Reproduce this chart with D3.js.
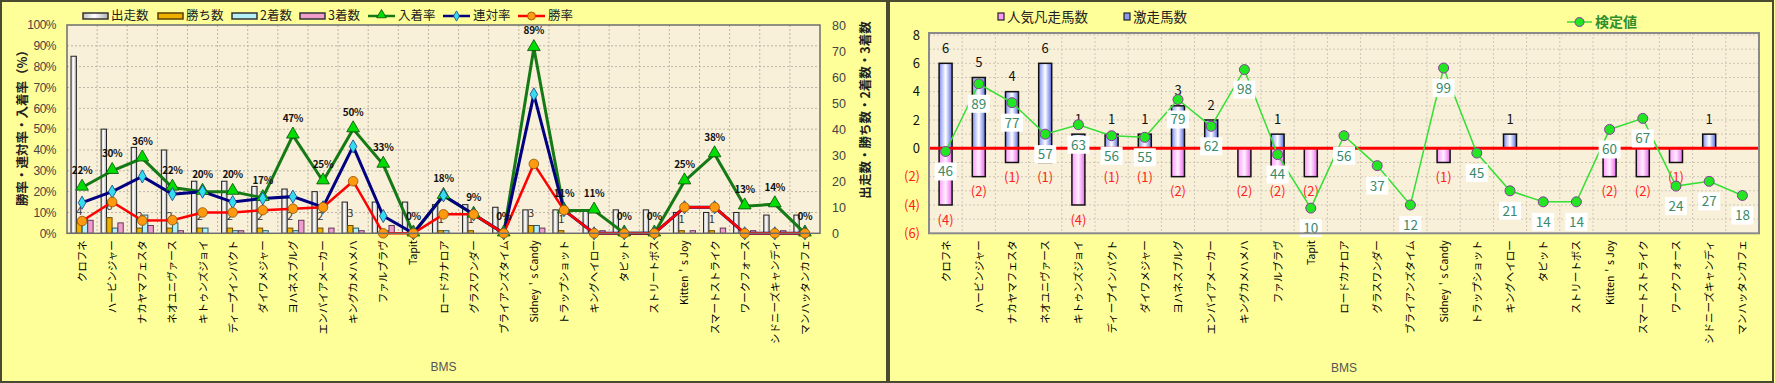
<!DOCTYPE html>
<html>
<head>
<meta charset="utf-8">
<script src="https://cdn.jsdelivr.net/npm/d3@7"></script>
<style>
body { margin: 0; background: #ffff99; }
svg { display: block; }
text { font-family: "Noto Sans CJK JP", "Noto Sans", sans-serif; }
</style>
</head>
<body>
<div id="chart"></div>
<script>
// BMS (broodmare sire) names
const sires = ["クロフネ", "ハービンジャー", "ナカヤマフェスタ", "ネオユニヴァース", "キトゥンズジョイ",
  "ディープインパクト", "ダイワメジャー", "ヨハネスブルグ", "エンパイアメーカー", "キングカメハメハ",
  "ファルブラヴ", "Tapit", "ロードカナロア", "グラスワンダー", "ブライアンズタイム",
  "Sidney＇s Candy", "トラップショット", "キングヘイロー", "タピット", "ストリートボス",
  "Kitten＇s Joy", "スマートストライク", "ワークフォース", "シドニーズキャンディ", "マンハッタンカフェ"]

// left chart: counts
const starts  = [68, 40, 33, 32, 20, 20, 18, 17, 16, 12, 12, 12, 11, 11, 10, 9, 9, 9, 9, 9, 8, 8, 8, 7, 7]
const wins    = [4, 6, 2, 2, 2, 2, 2, 2, 2, 3, 0, 0, 1, 1, 0, 3, 1, 0, 0, 0, 1, 1, 0, 0, 0]
const seconds = [6, 2, 7, 4, 2, 1, 1, 1, 0, 2, 1, 0, 1, 0, 0, 3, 0, 0, 0, 0, 0, 0, 0, 0, 0]
const thirds  = [5, 4, 3, 1, 0, 1, 0, 5, 2, 1, 3, 0, 0, 0, 0, 2, 0, 1, 0, 0, 1, 2, 1, 1, 0]

// left chart: rates (%)
const placeRate = [22, 30, 36, 22, 20, 20, 17, 47, 25, 50, 33, 0, 18, 9, 0, 89, 11, 11, 0, 0, 25, 38, 13, 14, 0]
const top2Rate  = [14.7, 20, 27.3, 18.8, 20, 15, 16.7, 17.6, 12.5, 41.7, 8.3, 0, 18.2, 9.1, 0, 66.7, 11.1, 0, 0, 0, 12.5, 12.5, 0, 0, 0]
const winRate   = [5.9, 15, 6.1, 6.3, 10, 10, 11.1, 11.8, 12.5, 25, 0, 0, 9.1, 9.1, 0, 33.3, 11.1, 0, 0, 0, 12.5, 12.5, 0, 0, 0]

// right chart
const gekisou = [6, 5, 4, 6, 1, 1, 1, 3, 2, 0, 1, 0, 0, 0, 0, 0, 0, 1, 0, 0, 0, 0, 0, 1, 0]
const bonsou  = [4, 2, 1, 1, 4, 1, 1, 2, 0, 2, 2, 2, 0, 0, 0, 1, 0, 0, 0, 0, 2, 2, 1, 0, 0]
const kentei  = [46, 89, 77, 57, 63, 56, 55, 79, 62, 98, 44, 10, 56, 37, 12, 99, 45, 21, 14, 14, 60, 67, 24, 27, 18]

const pctTicks = d3.range(0, 101, 10)
const cntTicks = d3.range(0, 81, 10)
const diffTicks = d3.range(-6, 9, 2)

const width = 1775, height = 383

const svg = d3.select("#chart").append("svg")
  .attr("width", width)
  .attr("height", height)

const defs = svg.append("defs")
const grad = (id, stops) => {
  const lg = defs.append("linearGradient").attr("id", id)
    .attr("x1", "0%").attr("x2", "100%").attr("y1", "0%").attr("y2", "0%")
  stops.forEach(s => lg.append("stop").attr("offset", s[0]).attr("stop-color", s[1]))
}
grad("gStart", [["0%", "#c0c0c0"], ["45%", "#ffffff"], ["100%", "#b0b0b0"]])
grad("gBlue", [["0%", "#7f8ff0"], ["50%", "#ffffff"], ["100%", "#5a6ce0"]])
grad("gPink", [["0%", "#ff99ff"], ["50%", "#fff0ff"], ["100%", "#ee66ee"]])

// panels
svg.append("rect").attr("x", 1).attr("y", 1).attr("width", 886).attr("height", 381)
  .attr("fill", "#ffff99").attr("stroke", "#4a4a30").attr("stroke-width", 2)
svg.append("rect").attr("x", 889).attr("y", 1).attr("width", 884).attr("height", 381)
  .attr("fill", "#ffff99").attr("stroke", "#4a4a30").attr("stroke-width", 2)

/* ---------------- left chart ---------------- */
const L = {left: 67, right: 820, top: 25, bottom: 233.3}

const xL = d3.scaleBand().domain(sires).range([L.left, L.right])
const sub = d3.scaleBand().domain([0, 1, 2, 3]).range([4, xL.bandwidth() - 4]).paddingInner(0.04)
const yPct = d3.scaleLinear().domain([0, 100]).range([L.bottom, L.top])
const yCnt = d3.scaleLinear().domain([0, 80]).range([L.bottom, L.top])

const gl = svg.append("g")

gl.append("rect").attr("x", L.left).attr("y", L.top)
  .attr("width", L.right - L.left).attr("height", L.bottom - L.top)
  .attr("fill", "#f9f0d9")

gl.append("g").selectAll("line").data(pctTicks.slice(1, -1)).enter().append("line")
  .attr("x1", L.left).attr("x2", L.right)
  .attr("y1", d => yPct(d)).attr("y2", d => yPct(d))
  .attr("stroke", "#bdb4a6").attr("stroke-dasharray", "2,2")
gl.append("g").selectAll("line").data(sires.slice(1)).enter().append("line")
  .attr("x1", d => xL(d)).attr("x2", d => xL(d))
  .attr("y1", L.top).attr("y2", L.bottom)
  .attr("stroke", "#bdb4a6").attr("stroke-dasharray", "2,2")

// bars
const barSeries = [
  {vals: starts, fill: "url(#gStart)", stroke: "#222"},
  {vals: wins, fill: "#f0b000", stroke: "#6a4a00"},
  {vals: seconds, fill: "#b4f0f8", stroke: "#2a5a68"},
  {vals: thirds, fill: "#f09ccc", stroke: "#603a56"}
]
barSeries.forEach((s, k) => {
  gl.append("g").selectAll("rect").data(sires).enter().append("rect")
    .attr("x", d => xL(d) + sub(k))
    .attr("y", (d, i) => yCnt(s.vals[i]))
    .attr("width", sub.bandwidth())
    .attr("height", (d, i) => L.bottom - yCnt(s.vals[i]))
    .attr("fill", s.fill)
    .attr("stroke", s.stroke)
    .attr("stroke-width", 1)
})

// win count labels
gl.append("g").selectAll("text").data(sires.filter((d, i) => wins[i] > 0)).enter().append("text")
  .attr("x", d => xL(d) + sub(1) + sub.bandwidth() / 2)
  .attr("y", d => yCnt(wins[sires.indexOf(d)]) - 12)
  .attr("dy", "0.35em")
  .attr("text-anchor", "middle")
  .attr("font-size", 11)
  .attr("fill", "#333")
  .text(d => wins[sires.indexOf(d)])

const cx = d => xL(d) + xL.bandwidth() / 2

// lines
const lineOf = vals => d3.line().x(d => cx(d)).y((d, i) => yPct(vals[i]))
gl.append("path").datum(sires).attr("d", lineOf(placeRate))
  .attr("fill", "none").attr("stroke", "#157a15").attr("stroke-width", 3)
gl.append("path").datum(sires).attr("d", lineOf(top2Rate))
  .attr("fill", "none").attr("stroke", "#000080").attr("stroke-width", 3)
gl.append("path").datum(sires).attr("d", lineOf(winRate))
  .attr("fill", "none").attr("stroke", "#ff0000").attr("stroke-width", 2.5)

// markers
gl.append("g").selectAll("path").data(sires).enter().append("path")
  .attr("d", d3.symbol().type(d3.symbolTriangle).size(70))
  .attr("transform", (d, i) => `translate(${cx(d)}, ${yPct(placeRate[i]) - 1})`)
  .attr("fill", "#00dd00").attr("stroke", "#0a4a0a").attr("stroke-width", 0.8)
gl.append("g").selectAll("path").data(sires).enter().append("path")
  .attr("d", d3.symbol().type(d3.symbolDiamond).size(50))
  .attr("transform", (d, i) => `translate(${cx(d)}, ${yPct(top2Rate[i])})`)
  .attr("fill", "#33ddee").attr("stroke", "#1a3a8a").attr("stroke-width", 0.8)
gl.append("g").selectAll("circle").data(sires).enter().append("circle")
  .attr("cx", d => cx(d))
  .attr("cy", (d, i) => yPct(winRate[i]))
  .attr("r", 4.8)
  .attr("fill", "#ff9a10").attr("stroke", "#8a5200").attr("stroke-width", 0.8)

// place rate labels
gl.append("g").selectAll("text").data(sires).enter().append("text")
  .attr("x", d => cx(d))
  .attr("y", (d, i) => yPct(placeRate[i]) - 17)
  .attr("dy", "0.35em")
  .attr("text-anchor", "middle")
  .attr("font-size", 10)
  .attr("font-weight", "bold")
  .attr("letter-spacing", "-0.3")
  .attr("fill", "#111")
  .text((d, i) => placeRate[i] + "%")

// frame
gl.append("rect").attr("x", L.left).attr("y", L.top)
  .attr("width", L.right - L.left).attr("height", L.bottom - L.top)
  .attr("fill", "none").attr("stroke", "#6e6e6e").attr("stroke-width", 1.5)

// axes
const yAxisL = gl.append("g").attr("transform", `translate(${L.left}, 0)`)
  .call(d3.axisLeft(yPct).tickValues(pctTicks).tickFormat(d => d + "%").tickSize(0).tickPadding(11))
yAxisL.select(".domain").remove()
yAxisL.selectAll("text").attr("font-size", 12).attr("fill", "#444")
  .style("font-family", "'Liberation Sans', sans-serif").attr("letter-spacing", "-0.5")

const yAxisR = gl.append("g").attr("transform", `translate(${L.right}, 0)`)
  .call(d3.axisRight(yCnt).tickValues(cntTicks).tickSize(0).tickPadding(12))
yAxisR.select(".domain").remove()
yAxisR.selectAll("text").attr("font-size", 12.5).attr("fill", "#444")
  .style("font-family", "'Liberation Sans', sans-serif")

const xAxisL = gl.append("g").attr("transform", `translate(0, ${L.bottom})`)
  .call(d3.axisBottom(xL).tickSize(0))
xAxisL.select(".domain").remove()
xAxisL.selectAll("text")
  .attr("transform", "rotate(-90)")
  .attr("x", -7).attr("y", 0).attr("dy", "0.38em")
  .style("text-anchor", "end")
  .attr("font-size", 10.5)
  .attr("fill", "#000")

gl.append("text")
  .attr("transform", `translate(23, 125) rotate(-90)`)
  .attr("text-anchor", "middle").attr("dy", "0.35em")
  .attr("font-size", 12.5).attr("font-weight", "bold").attr("fill", "#222")
  .text("勝率・連対率・入着率（%）")
gl.append("text")
  .attr("transform", `translate(866, 110) rotate(-90)`)
  .attr("text-anchor", "middle").attr("dy", "0.35em")
  .attr("font-size", 12.5).attr("font-weight", "bold").attr("fill", "#222")
  .text("出走数・勝ち数・2着数・3着数")
gl.append("text")
  .attr("x", (L.left + L.right) / 2).attr("y", 367)
  .attr("text-anchor", "middle").attr("dy", "0.35em")
  .attr("font-size", 12).attr("fill", "#555")
  .style("font-family", "'Liberation Sans', sans-serif")
  .text("BMS")

// legend (left)
const legL = gl.append("g")
const barLegend = [
  {x: 83, label: "出走数", fill: "url(#gStart)", stroke: "#333"},
  {x: 158, label: "勝ち数", fill: "#f0b000", stroke: "#5a4000"},
  {x: 232, label: "2着数", fill: "#b4f0f8", stroke: "#333"},
  {x: 300, label: "3着数", fill: "#f09ccc", stroke: "#333"}
]
barLegend.forEach(b => {
  legL.append("rect").attr("x", b.x).attr("y", 13).attr("width", 25).attr("height", 6)
    .attr("fill", b.fill).attr("stroke", b.stroke).attr("stroke-width", 1.5)
  legL.append("text").attr("x", b.x + 28).attr("y", 16).attr("dy", "0.35em")
    .attr("font-size", 12.5).attr("fill", "#222").text(b.label)
})
const lineLegend = [
  {x: 368, label: "入着率", color: "#157a15", type: "tri"},
  {x: 443, label: "連対率", color: "#000080", type: "dia"},
  {x: 518, label: "勝率", color: "#ff0000", type: "cir"}
]
lineLegend.forEach(b => {
  legL.append("line").attr("x1", b.x).attr("x2", b.x + 27).attr("y1", 16).attr("y2", 16)
    .attr("stroke", b.color).attr("stroke-width", 2.5)
  const m = b.x + 13.5
  if (b.type === "tri") {
    legL.append("path").attr("d", d3.symbol().type(d3.symbolTriangle).size(40))
      .attr("transform", `translate(${m}, 15)`).attr("fill", "#00dd00").attr("stroke", "#0a4a0a").attr("stroke-width", 0.8)
  } else if (b.type === "dia") {
    legL.append("path").attr("d", d3.symbol().type(d3.symbolDiamond).size(30))
      .attr("transform", `translate(${m}, 16)`).attr("fill", "#33ddee").attr("stroke", "#1a3a8a").attr("stroke-width", 0.8)
  } else {
    legL.append("circle").attr("cx", m).attr("cy", 16).attr("r", 4)
      .attr("fill", "#ff9a10").attr("stroke", "#8a5200").attr("stroke-width", 0.8)
  }
  legL.append("text").attr("x", b.x + 30).attr("y", 16).attr("dy", "0.35em")
    .attr("font-size", 12.5).attr("fill", "#222").text(b.label)
})

/* ---------------- right chart ---------------- */
const R = {left: 929, right: 1759, top: 33, bottom: 233.3}

const xR = d3.scaleBand().domain(sires).range([R.left, R.right])
const yR = d3.scaleLinear().domain([-6, 8]).range([R.bottom, 35])
const yK = d3.scaleLinear().domain([-6, 120]).range([R.bottom, 35])
const barW = 13
const cxR = d => xR(d) + xR.bandwidth() / 2

const gr = svg.append("g")

gr.append("rect").attr("x", R.left).attr("y", R.top)
  .attr("width", R.right - R.left).attr("height", R.bottom - R.top)
  .attr("fill", "#f9f0d9")

gr.append("g").selectAll("line").data(d3.range(-5, 9)).enter().append("line")
  .attr("x1", R.left).attr("x2", R.right)
  .attr("y1", d => yR(d)).attr("y2", d => yR(d))
  .attr("stroke", "#cfc6b8").attr("stroke-dasharray", "2,2")
gr.append("g").selectAll("line").data(sires.slice(1)).enter().append("line")
  .attr("x1", d => xR(d)).attr("x2", d => xR(d))
  .attr("y1", R.top).attr("y2", R.bottom)
  .attr("stroke", "#cfc6b8").attr("stroke-dasharray", "2,2")

// bars
gr.append("g").selectAll("rect").data(sires.filter((d, i) => gekisou[i] > 0)).enter().append("rect")
  .attr("x", d => cxR(d) - barW / 2)
  .attr("y", d => yR(gekisou[sires.indexOf(d)]))
  .attr("width", barW)
  .attr("height", d => yR(0) - yR(gekisou[sires.indexOf(d)]))
  .attr("fill", "url(#gBlue)").attr("stroke", "#111").attr("stroke-width", 1.5)
gr.append("g").selectAll("rect").data(sires.filter((d, i) => bonsou[i] > 0)).enter().append("rect")
  .attr("x", d => cxR(d) - barW / 2)
  .attr("y", yR(0))
  .attr("width", barW)
  .attr("height", d => yR(-bonsou[sires.indexOf(d)]) - yR(0))
  .attr("fill", "url(#gPink)").attr("stroke", "#111").attr("stroke-width", 1.5)

// bar labels
gr.append("g").selectAll("text").data(sires.filter((d, i) => gekisou[i] > 0)).enter().append("text")
  .attr("x", d => cxR(d))
  .attr("y", d => yR(gekisou[sires.indexOf(d)]) - 15)
  .attr("dy", "0.35em").attr("text-anchor", "middle")
  .attr("font-size", 13).attr("fill", "#111")
  .text(d => gekisou[sires.indexOf(d)])
gr.append("g").selectAll("text").data(sires.filter((d, i) => bonsou[i] > 0)).enter().append("text")
  .attr("x", d => cxR(d))
  .attr("y", d => yR(-bonsou[sires.indexOf(d)]) + 15)
  .attr("dy", "0.35em").attr("text-anchor", "middle")
  .attr("font-size", 13).attr("fill", "#ff2020")
  .text(d => "(" + bonsou[sires.indexOf(d)] + ")")

// zero line
gr.append("line").attr("x1", R.left).attr("x2", R.right)
  .attr("y1", yR(0)).attr("y2", yR(0))
  .attr("stroke", "#ff0000").attr("stroke-width", 3)

// kentei line
gr.append("path").datum(sires)
  .attr("d", d3.line().x(d => cxR(d)).y((d, i) => yK(kentei[i])))
  .attr("fill", "none").attr("stroke", "#33e033").attr("stroke-width", 1.5)

// kentei labels
const kLab = gr.append("g").selectAll("g").data(sires).enter().append("g")
  .attr("transform", (d, i) => `translate(${cxR(d)}, ${yK(kentei[i]) + 20})`)
kLab.append("rect").attr("x", -11).attr("y", -9).attr("width", 22).attr("height", 18)
  .attr("fill", "#ffffff")
kLab.append("text").attr("text-anchor", "middle").attr("dy", "0.36em")
  .attr("font-size", 13.5).attr("fill", "#3a8a6a")
  .text((d, i) => kentei[i])

gr.append("g").selectAll("circle").data(sires).enter().append("circle")
  .attr("cx", d => cxR(d))
  .attr("cy", (d, i) => yK(kentei[i]))
  .attr("r", 5)
  .attr("fill", "#22e622").attr("stroke", "#8a3a9a").attr("stroke-width", 1)

gr.append("rect").attr("x", R.left).attr("y", R.top)
  .attr("width", R.right - R.left).attr("height", R.bottom - R.top)
  .attr("fill", "none").attr("stroke", "#8a8a8a").attr("stroke-width", 2)

const yAxisR2 = gr.append("g").attr("transform", `translate(${R.left}, 0)`)
  .call(d3.axisLeft(yR).tickValues(diffTicks).tickSize(0).tickPadding(9)
    .tickFormat(d => d < 0 ? "(" + (-d) + ")" : d))
yAxisR2.select(".domain").remove()
yAxisR2.selectAll("text").attr("font-size", 13)
  .attr("fill", d => d < 0 ? "#ff2020" : "#111")

const xAxisR = gr.append("g").attr("transform", `translate(0, ${R.bottom})`)
  .call(d3.axisBottom(xR).tickSize(0))
xAxisR.select(".domain").remove()
xAxisR.selectAll("text")
  .attr("transform", "rotate(-90)")
  .attr("x", -7).attr("y", 0).attr("dy", "0.38em")
  .style("text-anchor", "end")
  .attr("font-size", 10.5)
  .attr("fill", "#000")

gr.append("text")
  .attr("x", (R.left + R.right) / 2).attr("y", 368)
  .attr("text-anchor", "middle").attr("dy", "0.35em")
  .attr("font-size", 12).attr("fill", "#555")
  .style("font-family", "'Liberation Sans', sans-serif")
  .text("BMS")

// legend (right)
const legR = gr.append("g")
legR.append("rect").attr("x", 998).attr("y", 13).attr("width", 6).attr("height", 7)
  .attr("fill", "#ff99ff").attr("stroke", "#222").attr("stroke-width", 1.2)
legR.append("text").attr("x", 1007).attr("y", 17).attr("dy", "0.35em")
  .attr("font-size", 13.5).attr("fill", "#222").text("人気凡走馬数")
legR.append("rect").attr("x", 1124).attr("y", 13).attr("width", 6).attr("height", 7)
  .attr("fill", "#8a9af0").attr("stroke", "#222").attr("stroke-width", 1.2)
legR.append("text").attr("x", 1133).attr("y", 17).attr("dy", "0.35em")
  .attr("font-size", 13.5).attr("fill", "#222").text("激走馬数")
legR.append("line").attr("x1", 1567).attr("x2", 1592).attr("y1", 22).attr("y2", 22)
  .attr("stroke", "#33e033").attr("stroke-width", 1.5)
legR.append("circle").attr("cx", 1579.5).attr("cy", 22).attr("r", 4.5)
  .attr("fill", "#22e622").attr("stroke", "#8a3a9a").attr("stroke-width", 1)
legR.append("text").attr("x", 1595).attr("y", 22).attr("dy", "0.35em")
  .attr("font-size", 14).attr("font-weight", "bold").attr("fill", "#2f8f2f").text("検定値")
</script>
</body>
</html>
